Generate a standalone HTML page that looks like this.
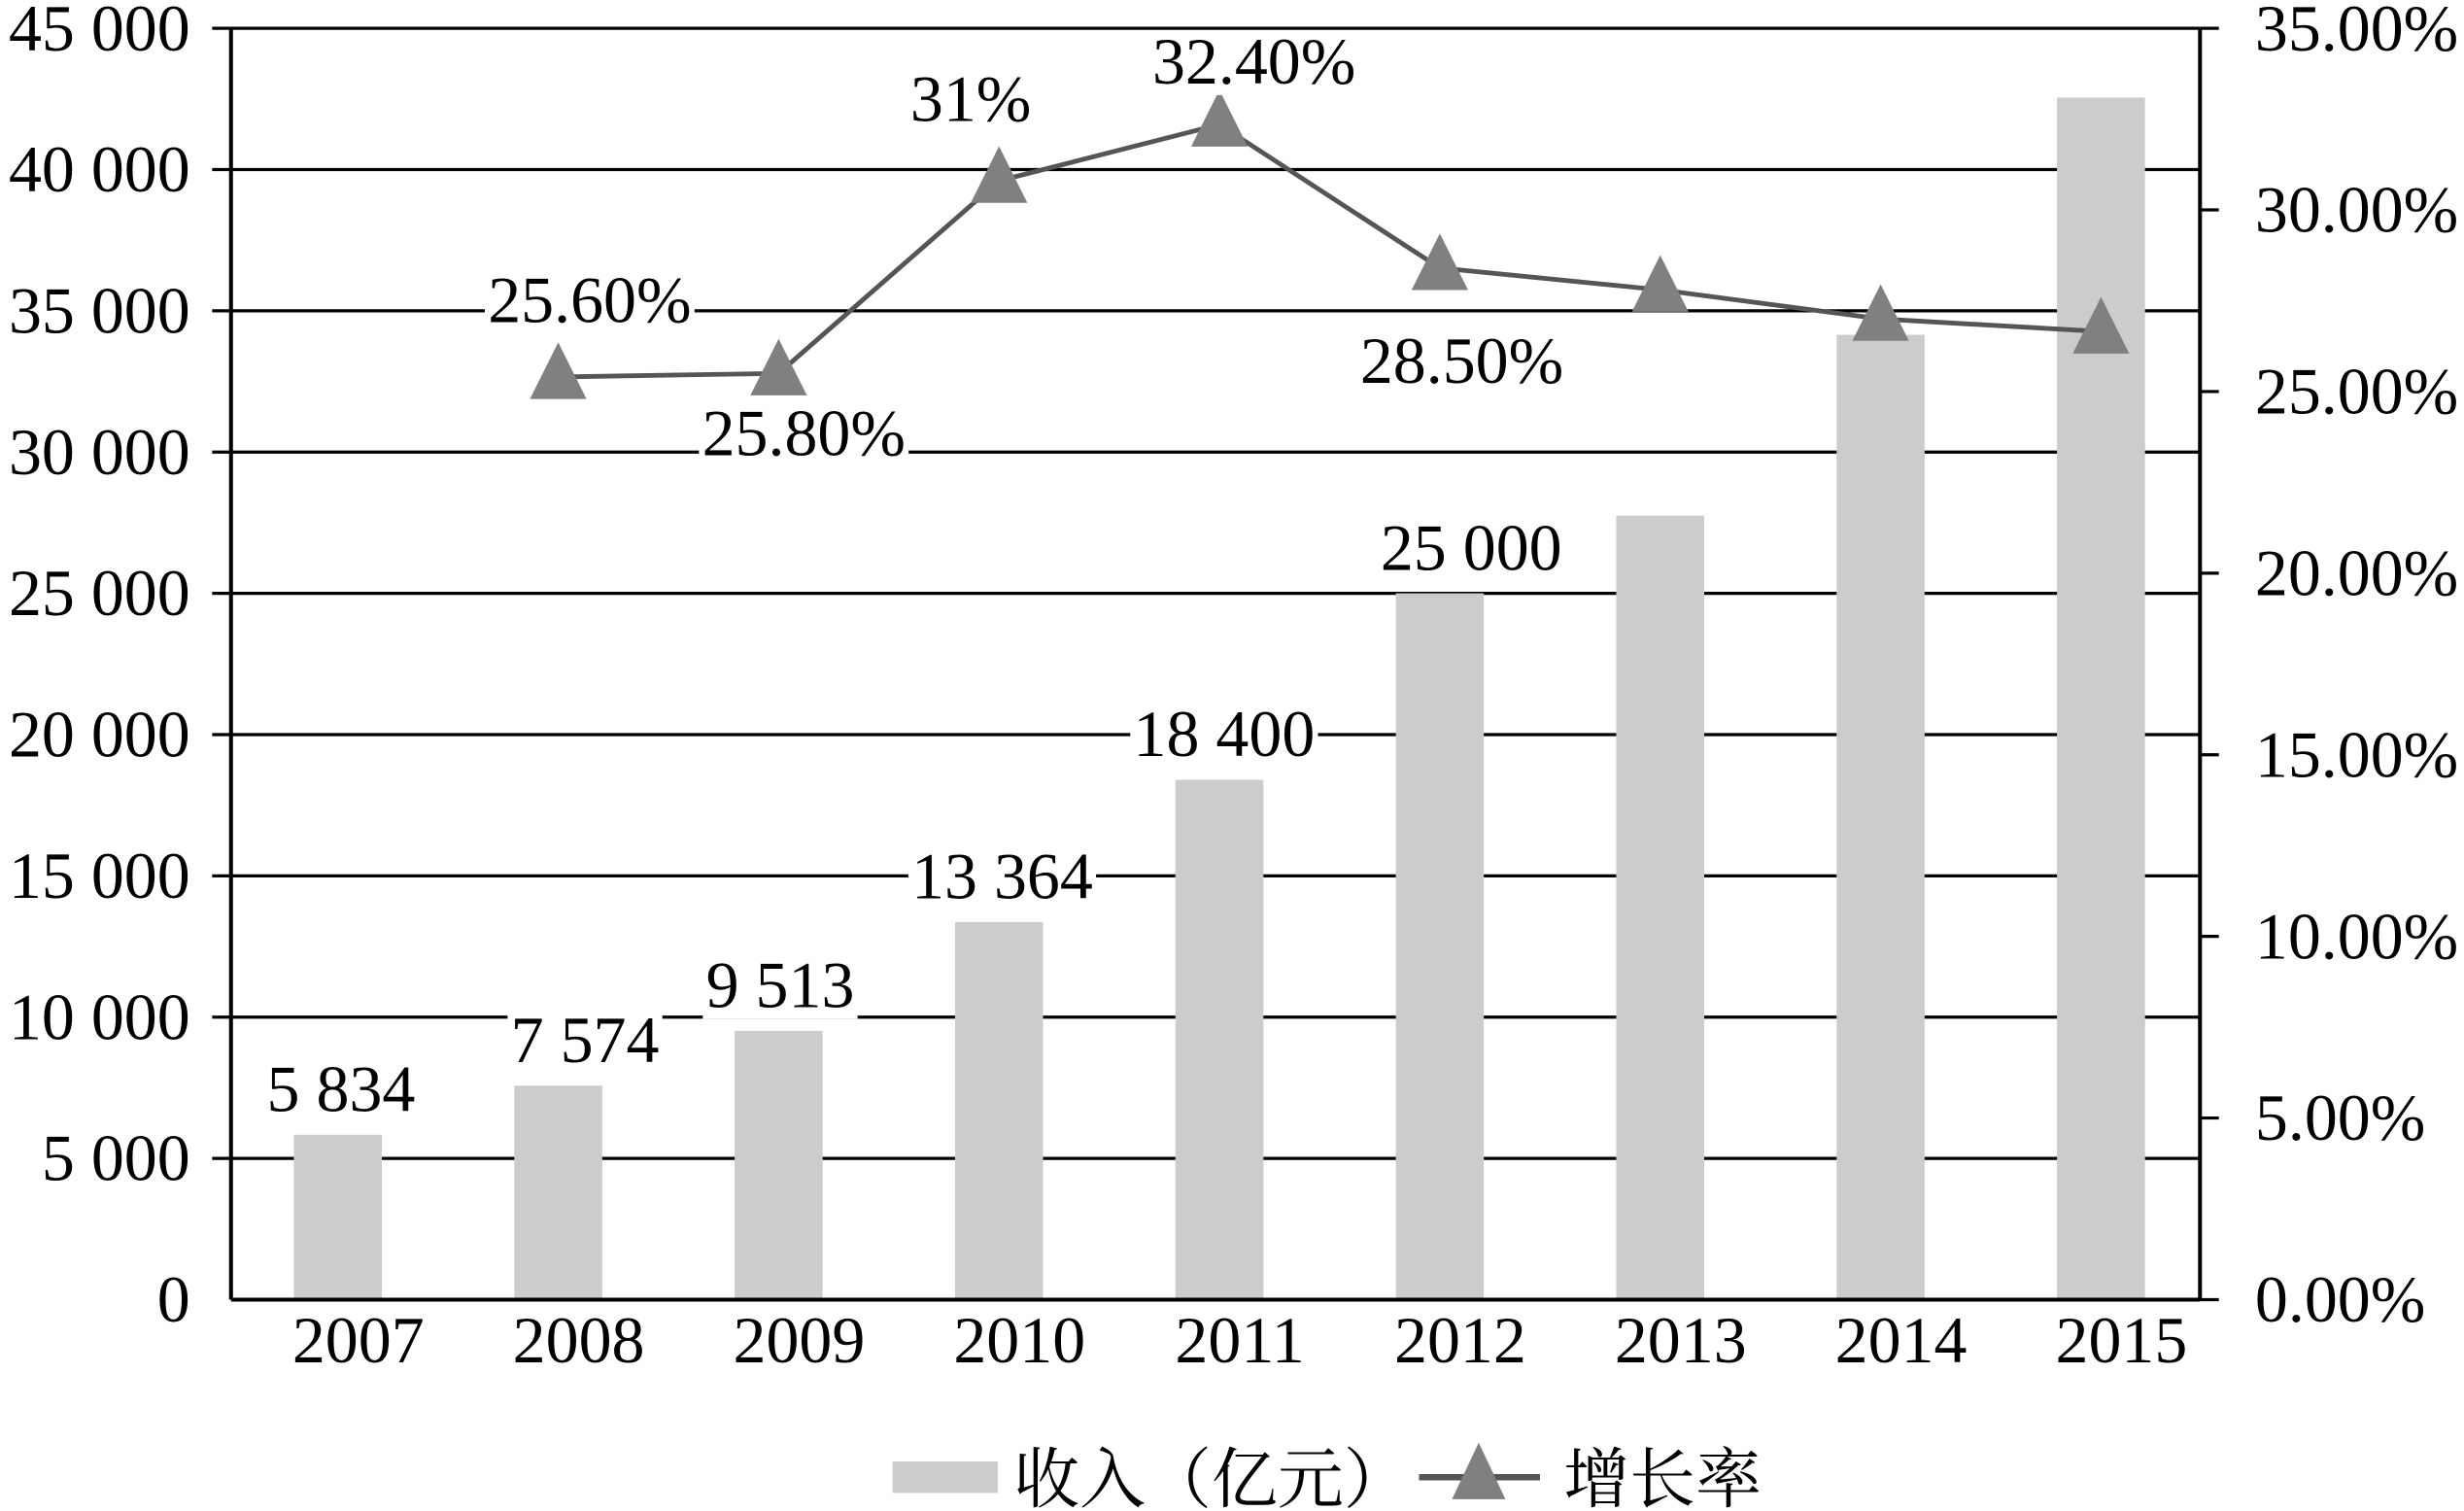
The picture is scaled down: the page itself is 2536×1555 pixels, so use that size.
<!DOCTYPE html>
<html><head><meta charset="utf-8"><style>
html,body{margin:0;padding:0;background:#fff;}
svg{display:block;}
text{font-family:"Liberation Serif","Noto Serif CJK SC",serif;fill:#000;}
</style></head><body>
<svg id="chart" width="2536" height="1555" viewBox="0 0 1568 961.5" preserveAspectRatio="none" xmlns="http://www.w3.org/2000/svg">
<g id="grid"></g>
<g id="bars"></g>
<g id="axes"></g>
<g id="line"></g>
<g id="labels"></g>
<g id="legend">
  <rect x="568" y="930" width="67" height="20" fill="#cccccc"/>
  <text x="645" y="956" font-size="42">收入（亿元）</text>
  <line x1="903" y1="940" x2="980" y2="940" stroke="#555" stroke-width="4"/>
  <polygon points="941,918 958,954 924,954" fill="#808080"/>
  <text x="995" y="956" font-size="42">增长率</text>
</g>
</svg>
<script>
const years=["2007","2008","2009","2010","2011","2012","2013","2014","2015"];
const revenue=[5834,7574,9513,13364,18400,25000,27750,34150,42550];
const revenueLabels=["5 834","7 574","9 513","13 364","18 400","25 000","","",""];
const growth=[null,25.4,25.5,30.8,32.35,28.4,27.8,27.0,26.65];
const growthLabels=["","25.60%","25.80%","31%","32.40%","28.50%","","",""];
const leftTicks=["0","5 000","10 000","15 000","20 000","25 000","30 000","35 000","40 000","45 000"];
const rightTicks=["0.00%","5.00%","10.00%","15.00%","20.00%","25.00%","30.00%","35.00%"];

const NS="http://www.w3.org/2000/svg";
const L=147,R=1400,T=18,B=827;
const yL=v=>B-(v/45000)*(B-T);
const yR=v=>B-(v/35)*(B-T);
const xC=i=>215+140.25*i;
function mk(tag,attrs,parent){const e=document.createElementNS(NS,tag);for(const k in attrs)e.setAttribute(k,attrs[k]);parent.appendChild(e);return e;}
const grid=document.getElementById('grid'),axes=document.getElementById('axes'),bars=document.getElementById('bars'),line=document.getElementById('line'),labels=document.getElementById('labels');

leftTicks.forEach((t,i)=>{
  const y=yL(i*5000);
  if(i>0){const g=mk('line',{x1:L-12,x2:R,y1:y,y2:y,stroke:'#000','stroke-width':2},grid);
  
  }
  const tx=mk('text',{x:L-26,y:y+14,'font-size':42,'text-anchor':'end'},axes);
  tx.textContent=t;
  
  
});
rightTicks.forEach((t,i)=>{
  const y=yR(i*5);
  const tk=mk('line',{x1:R,x2:R+12,y1:y,y2:y,stroke:'#000','stroke-width':2},axes);
  
  
  const tx=mk('text',{x:1435,y:y+14,'font-size':42},axes);
  tx.textContent=t;
  
  
});
years.forEach((yr,i)=>{
  const h=B-yL(revenue[i]);
  const r=mk('rect',{x:xC(i)-28,y:yL(revenue[i]),width:56,height:h,fill:'#cccccc'},bars);
  
  
  const tx=mk('text',{x:xC(i)+13,y:B+40,'font-size':42,'text-anchor':'middle'},axes);
  tx.textContent=yr;
  
  
});
const ax=[['left-axis',L,T,L,B],['right-axis',R,T,R,B],['x-axis',L,B,R,B]];
ax.forEach(a=>{const e=mk('line',{x1:a[1],y1:a[2],x2:a[3],y2:a[4],stroke:'#000','stroke-width':2.5},axes);
  
  });

let pts=[];growth.forEach((g,i)=>{if(g!==null)pts.push(xC(i)+','+yR(g));});
const pl=mk('polyline',{points:pts.join(' '),fill:'none',stroke:'#555','stroke-width':3},line);


growth.forEach((g,i)=>{if(g===null)return;const x=xC(i),y=yR(g);
  const p=mk('polygon',{points:`${x},${y-22} ${x+18},${y+14} ${x-18},${y+14}`,fill:'#808080'},line);
  
  });

function label(txt,x,y,name){
  const bg=mk('rect',{fill:'#fff'},labels);
  
  
  const tx=mk('text',{x:x,y:y,'font-size':42,'text-anchor':'middle'},labels);
  tx.textContent=txt;
  
  
  const b=tx.getBBox();bg.setAttribute('x',b.x-2);bg.setAttribute('y',b.y+4);bg.setAttribute('width',b.width+4);bg.setAttribute('height',b.height-6);
}
const revOff=[2,17,1,2,3,20,0,0,0];
revenueLabels.forEach((t,i)=>{if(t)label(t,xC(i)+revOff[i],yL(revenue[i])-15,'bar-value-label');});
const gOff=[[0,0],[20,-35],[16,52],[-18,-38],[22,-26],[14,73]];
growthLabels.forEach((t,i)=>{if(t){const o=gOff[i];label(t,xC(i)+o[0],yR(growth[i])+o[1],'growth-value-label');}});
</script>
</body></html>
